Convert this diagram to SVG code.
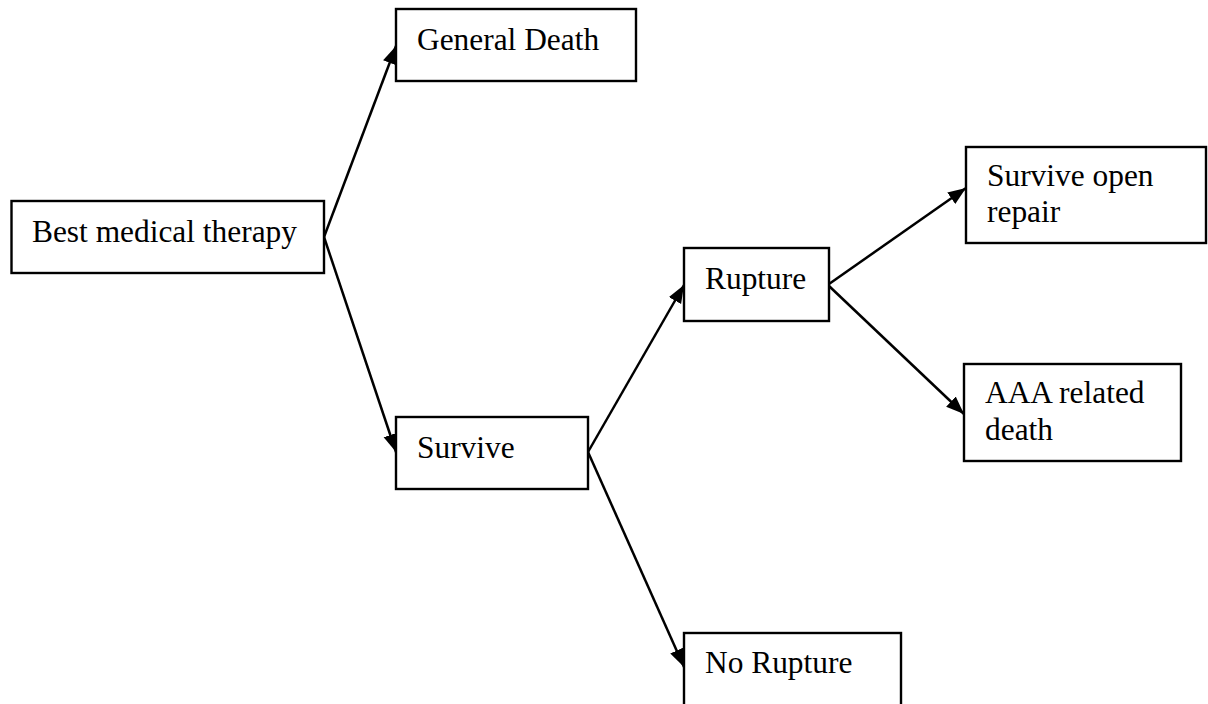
<svg xmlns="http://www.w3.org/2000/svg" width="1208" height="704" viewBox="0 0 1208 704">
<style>
.box{fill:#fff;stroke:#000;stroke-width:2.4}
.lbl{font-family:"Liberation Serif","Times New Roman",serif;font-size:31.4px;fill:#000}
.edge{stroke:#000;stroke-width:2.5;fill:none;marker-end:url(#ah)}
</style>
<defs>
<marker id="ah" markerUnits="userSpaceOnUse" markerWidth="20" markerHeight="16" refX="18" refY="7" orient="auto">
<path d="M0,0 L18,7 L0,14 z" fill="#000"/>
</marker>
</defs>
<rect width="1208" height="704" fill="#fff"/>
<g id="connectors">
<line class="edge" x1="324" y1="237" x2="396" y2="46"/>
<line class="edge" x1="324" y1="237" x2="396" y2="452"/>
<line class="edge" x1="588" y1="452" x2="684" y2="285"/>
<line class="edge" x1="588" y1="452" x2="684" y2="667"/>
<line class="edge" x1="829" y1="284" x2="966" y2="188"/>
<line class="edge" x1="829" y1="286" x2="964" y2="414"/>
</g>
<g id="n_best"><rect class="box" x="11.5" y="201" width="312.5" height="72"/><text class="lbl" x="32" y="242">Best medical therapy</text></g>
<g id="n_general"><rect class="box" x="396" y="9" width="240" height="72"/><text class="lbl" x="417" y="50">General Death</text></g>
<g id="n_survive"><rect class="box" x="396" y="417" width="192" height="72"/><text class="lbl" x="417" y="458">Survive</text></g>
<g id="n_rupture"><rect class="box" x="684" y="248" width="145" height="73"/><text class="lbl" x="705" y="289">Rupture</text></g>
<g id="n_norupture"><rect class="box" x="684" y="633" width="217" height="80"/><text class="lbl" x="705" y="673">No Rupture</text></g>
<g id="n_open"><rect class="box" x="966" y="147" width="240" height="96"/><text class="lbl" x="987" y="186">Survive open</text><text class="lbl" x="987" y="222">repair</text></g>
<g id="n_aaa"><rect class="box" x="964" y="364" width="217" height="97"/><text class="lbl" x="985" y="403">AAA related</text><text class="lbl" x="985" y="440">death</text></g>
</svg>
